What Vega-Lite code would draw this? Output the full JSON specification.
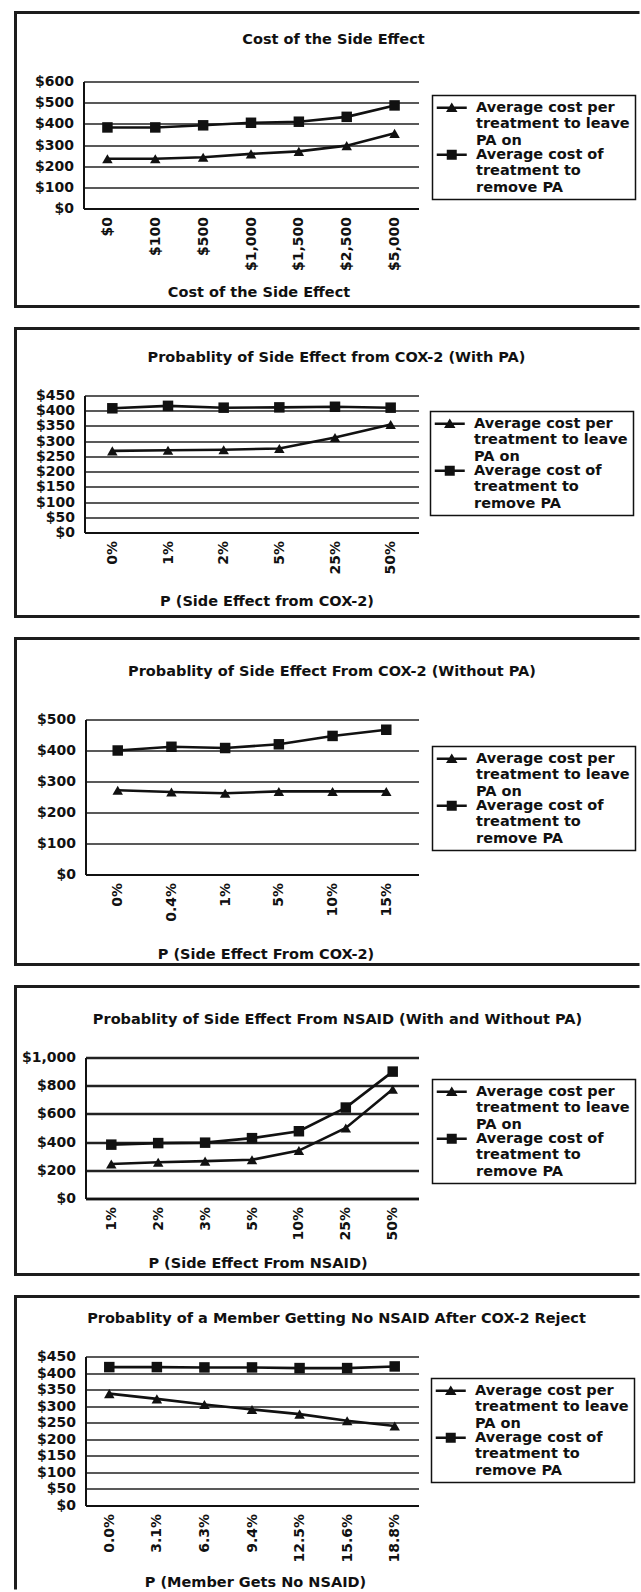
{
  "$schema": "https://vega.github.io/schema/vega-lite/v6.json",
  "padding": {"left": 13.5, "top": 10.5, "right": 0, "bottom": 0},
  "spacing": 18,
  "background": "white",
  "datasets": {
    "sideEffectCost": [
      {"level": "$0", "series": "Average cost per treatment to leave PA on", "cost": 235},
      {"level": "$100", "series": "Average cost per treatment to leave PA on", "cost": 235},
      {"level": "$500", "series": "Average cost per treatment to leave PA on", "cost": 242},
      {"level": "$1,000", "series": "Average cost per treatment to leave PA on", "cost": 258},
      {"level": "$1,500", "series": "Average cost per treatment to leave PA on", "cost": 270},
      {"level": "$2,500", "series": "Average cost per treatment to leave PA on", "cost": 297},
      {"level": "$5,000", "series": "Average cost per treatment to leave PA on", "cost": 355},
      {"level": "$0", "series": "Average cost of treatment to remove PA", "cost": 383},
      {"level": "$100", "series": "Average cost of treatment to remove PA", "cost": 383},
      {"level": "$500", "series": "Average cost of treatment to remove PA", "cost": 393},
      {"level": "$1,000", "series": "Average cost of treatment to remove PA", "cost": 405},
      {"level": "$1,500", "series": "Average cost of treatment to remove PA", "cost": 410},
      {"level": "$2,500", "series": "Average cost of treatment to remove PA", "cost": 433},
      {"level": "$5,000", "series": "Average cost of treatment to remove PA", "cost": 487}
    ],
    "cox2WithPA": [
      {"level": "0%", "series": "Average cost per treatment to leave PA on", "cost": 268},
      {"level": "1%", "series": "Average cost per treatment to leave PA on", "cost": 270},
      {"level": "2%", "series": "Average cost per treatment to leave PA on", "cost": 272},
      {"level": "5%", "series": "Average cost per treatment to leave PA on", "cost": 276},
      {"level": "25%", "series": "Average cost per treatment to leave PA on", "cost": 312},
      {"level": "50%", "series": "Average cost per treatment to leave PA on", "cost": 355},
      {"level": "0%", "series": "Average cost of treatment to remove PA", "cost": 408},
      {"level": "1%", "series": "Average cost of treatment to remove PA", "cost": 416},
      {"level": "2%", "series": "Average cost of treatment to remove PA", "cost": 410},
      {"level": "5%", "series": "Average cost of treatment to remove PA", "cost": 411},
      {"level": "25%", "series": "Average cost of treatment to remove PA", "cost": 413},
      {"level": "50%", "series": "Average cost of treatment to remove PA", "cost": 410}
    ],
    "cox2WithoutPA": [
      {"level": "0%", "series": "Average cost per treatment to leave PA on", "cost": 272},
      {"level": "0.4%", "series": "Average cost per treatment to leave PA on", "cost": 266},
      {"level": "1%", "series": "Average cost per treatment to leave PA on", "cost": 262},
      {"level": "5%", "series": "Average cost per treatment to leave PA on", "cost": 268},
      {"level": "10%", "series": "Average cost per treatment to leave PA on", "cost": 268},
      {"level": "15%", "series": "Average cost per treatment to leave PA on", "cost": 268},
      {"level": "0%", "series": "Average cost of treatment to remove PA", "cost": 400},
      {"level": "0.4%", "series": "Average cost of treatment to remove PA", "cost": 412},
      {"level": "1%", "series": "Average cost of treatment to remove PA", "cost": 408},
      {"level": "5%", "series": "Average cost of treatment to remove PA", "cost": 420},
      {"level": "10%", "series": "Average cost of treatment to remove PA", "cost": 447},
      {"level": "15%", "series": "Average cost of treatment to remove PA", "cost": 467}
    ],
    "nsaid": [
      {"level": "1%", "series": "Average cost per treatment to leave PA on", "cost": 245},
      {"level": "2%", "series": "Average cost per treatment to leave PA on", "cost": 257},
      {"level": "3%", "series": "Average cost per treatment to leave PA on", "cost": 265},
      {"level": "5%", "series": "Average cost per treatment to leave PA on", "cost": 275},
      {"level": "10%", "series": "Average cost per treatment to leave PA on", "cost": 340},
      {"level": "25%", "series": "Average cost per treatment to leave PA on", "cost": 500},
      {"level": "50%", "series": "Average cost per treatment to leave PA on", "cost": 775},
      {"level": "1%", "series": "Average cost of treatment to remove PA", "cost": 382},
      {"level": "2%", "series": "Average cost of treatment to remove PA", "cost": 393},
      {"level": "3%", "series": "Average cost of treatment to remove PA", "cost": 396},
      {"level": "5%", "series": "Average cost of treatment to remove PA", "cost": 428},
      {"level": "10%", "series": "Average cost of treatment to remove PA", "cost": 477},
      {"level": "25%", "series": "Average cost of treatment to remove PA", "cost": 645},
      {"level": "50%", "series": "Average cost of treatment to remove PA", "cost": 900}
    ],
    "noNsaid": [
      {"level": "0.0%", "series": "Average cost per treatment to leave PA on", "cost": 338},
      {"level": "3.1%", "series": "Average cost per treatment to leave PA on", "cost": 322},
      {"level": "6.3%", "series": "Average cost per treatment to leave PA on", "cost": 305},
      {"level": "9.4%", "series": "Average cost per treatment to leave PA on", "cost": 290},
      {"level": "12.5%", "series": "Average cost per treatment to leave PA on", "cost": 276},
      {"level": "15.6%", "series": "Average cost per treatment to leave PA on", "cost": 256},
      {"level": "18.8%", "series": "Average cost per treatment to leave PA on", "cost": 240},
      {"level": "0.0%", "series": "Average cost of treatment to remove PA", "cost": 418},
      {"level": "3.1%", "series": "Average cost of treatment to remove PA", "cost": 418},
      {"level": "6.3%", "series": "Average cost of treatment to remove PA", "cost": 417},
      {"level": "9.4%", "series": "Average cost of treatment to remove PA", "cost": 417},
      {"level": "12.5%", "series": "Average cost of treatment to remove PA", "cost": 415},
      {"level": "15.6%", "series": "Average cost of treatment to remove PA", "cost": 415},
      {"level": "18.8%", "series": "Average cost of treatment to remove PA", "cost": 420}
    ]
  },
  "vconcat": [
    {
      "width": 624, "height": 294,
      "view": {"stroke": "#1c1c1c", "strokeWidth": 3, "strokeDash": [624, 294, 1000]},
      "data": {"name": "sideEffectCost"},
      "title": {"text": "Cost of the Side Effect", "offset": -42.3, "baseline": "middle", "anchor": "middle", "frame": "group", "dx": 6},
      "encoding": {
        "x": {"field": "level", "type": "ordinal",
              "scale": {"type": "point", "domain": ["$0", "$100", "$500", "$1,000", "$1,500", "$2,500", "$5,000"], "range": [68, 403], "padding": 0.5},
              "axis": {"title": "Cost of the Side Effect", "labelAngle": -90, "labelPadding": 8, "offset": -98, "titleX": 243, "titleY": 84, "titleBaseline": "middle", "titleAlign": "center", "grid": false}},
        "y": {"field": "cost", "type": "quantitative",
              "scale": {"domain": [0, 600], "range": [196, 69], "nice": false},
              "axis": {"title": null, "values": [0, 100, 200, 300, 400, 500, 600], "format": "$,.0f", "grid": true, "labelPadding": 10, "offset": -68}}
      },
      "resolve": {"scale": {"shape": "independent"}, "legend": {"shape": "independent"}},
      "layer": [
        {"mark": {"type": "line", "color": "#111", "strokeWidth": 2.6}, "encoding": {"detail": {"field": "series"}}},
        {"mark": {"type": "point", "filled": true, "opacity": 1, "color": "#111", "size": 110},
         "encoding": {"shape": {"field": "series", "type": "nominal",
           "scale": {"domain": ["Average cost per treatment to leave PA on", "Average cost of treatment to remove PA"], "range": ["triangle-up", "square"]},
           "legend": null}}},
        {"transform": [{"filter": "false"}],
         "mark": {"type": "point", "filled": true, "opacity": 1, "color": "#111"},
         "encoding": {"shape": {"field": "series", "type": "nominal",
           "scale": {"domain": ["Average cost per treatment to leave PA on", "Average cost of treatment to remove PA"], "range": ["M-3,-0.25H3V0.25H-3Z M0,-1.05L1.15,0.85H-1.15Z", "M-3,-0.25H3V0.25H-3Z M-1,-1H1V1H-1Z"]},
           "legend": {"title": null, "orient": "none", "legendX": 417, "legendY": 83, "direction": "vertical",
             "labelExpr": "datum.value == 'Average cost of treatment to remove PA' ? ['Average cost of', 'treatment to', 'remove PA'] : ['Average cost per', 'treatment to leave', 'PA on']"}}}}
      ]
    },
    {
      "width": 624, "height": 288,
      "view": {"stroke": "#1c1c1c", "strokeWidth": 3, "strokeDash": [624, 288, 1000]},
      "data": {"name": "cox2WithPA"},
      "title": {"text": "Probablity of Side Effect from COX-2 (With PA)", "offset": -44.3, "baseline": "middle", "anchor": "middle", "frame": "group", "dx": 9},
      "encoding": {
        "x": {"field": "level", "type": "ordinal",
              "scale": {"type": "point", "domain": ["0%", "1%", "2%", "5%", "25%", "50%"], "range": [69, 403], "padding": 0.5},
              "axis": {"title": "P (Side Effect from COX-2)", "labelAngle": -90, "labelPadding": 8, "offset": -84, "titleX": 251, "titleY": 69, "titleBaseline": "middle", "titleAlign": "center", "grid": false}},
        "y": {"field": "cost", "type": "quantitative",
              "scale": {"domain": [0, 450], "range": [204, 67], "nice": false},
              "axis": {"title": null, "values": [0, 50, 100, 150, 200, 250, 300, 350, 400, 450], "format": "$,.0f", "grid": true, "labelPadding": 10, "offset": -69}}
      },
      "resolve": {"scale": {"shape": "independent"}, "legend": {"shape": "independent"}},
      "layer": [
        {"mark": {"type": "line", "color": "#111", "strokeWidth": 2.6}, "encoding": {"detail": {"field": "series"}}},
        {"mark": {"type": "point", "filled": true, "opacity": 1, "color": "#111", "size": 110},
         "encoding": {"shape": {"field": "series", "type": "nominal",
           "scale": {"domain": ["Average cost per treatment to leave PA on", "Average cost of treatment to remove PA"], "range": ["triangle-up", "square"]},
           "legend": null}}},
        {"transform": [{"filter": "false"}],
         "mark": {"type": "point", "filled": true, "opacity": 1, "color": "#111"},
         "encoding": {"shape": {"field": "series", "type": "nominal",
           "scale": {"domain": ["Average cost per treatment to leave PA on", "Average cost of treatment to remove PA"], "range": ["M-3,-0.25H3V0.25H-3Z M0,-1.05L1.15,0.85H-1.15Z", "M-3,-0.25H3V0.25H-3Z M-1,-1H1V1H-1Z"]},
           "legend": {"title": null, "orient": "none", "legendX": 415, "legendY": 83, "direction": "vertical",
             "labelExpr": "datum.value == 'Average cost of treatment to remove PA' ? ['Average cost of', 'treatment to', 'remove PA'] : ['Average cost per', 'treatment to leave', 'PA on']"}}}}
      ]
    },
    {
      "width": 624, "height": 326,
      "view": {"stroke": "#1c1c1c", "strokeWidth": 3, "strokeDash": [624, 326, 1100]},
      "data": {"name": "cox2WithoutPA"},
      "title": {"text": "Probablity of Side Effect From COX-2 (Without PA)", "offset": -48.3, "baseline": "middle", "anchor": "middle", "frame": "group", "dx": 4.5},
      "encoding": {
        "x": {"field": "level", "type": "ordinal",
              "scale": {"type": "point", "domain": ["0%", "0.4%", "1%", "5%", "10%", "15%"], "range": [70, 403], "padding": 0.6},
              "axis": {"title": "P (Side Effect From COX-2)", "labelAngle": -90, "labelPadding": 8, "offset": -90, "titleX": 250, "titleY": 80, "titleBaseline": "middle", "titleAlign": "center", "grid": false}},
        "y": {"field": "cost", "type": "quantitative",
              "scale": {"domain": [0, 500], "range": [236, 81], "nice": false},
              "axis": {"title": null, "values": [0, 100, 200, 300, 400, 500], "format": "$,.0f", "grid": true, "labelPadding": 10, "offset": -70}}
      },
      "resolve": {"scale": {"shape": "independent"}, "legend": {"shape": "independent"}},
      "layer": [
        {"mark": {"type": "line", "color": "#111", "strokeWidth": 2.6}, "encoding": {"detail": {"field": "series"}}},
        {"mark": {"type": "point", "filled": true, "opacity": 1, "color": "#111", "size": 110},
         "encoding": {"shape": {"field": "series", "type": "nominal",
           "scale": {"domain": ["Average cost per treatment to leave PA on", "Average cost of treatment to remove PA"], "range": ["triangle-up", "square"]},
           "legend": null}}},
        {"transform": [{"filter": "false"}],
         "mark": {"type": "point", "filled": true, "opacity": 1, "color": "#111"},
         "encoding": {"shape": {"field": "series", "type": "nominal",
           "scale": {"domain": ["Average cost per treatment to leave PA on", "Average cost of treatment to remove PA"], "range": ["M-3,-0.25H3V0.25H-3Z M0,-1.05L1.15,0.85H-1.15Z", "M-3,-0.25H3V0.25H-3Z M-1,-1H1V1H-1Z"]},
           "legend": {"title": null, "orient": "none", "legendX": 417, "legendY": 108, "direction": "vertical",
             "labelExpr": "datum.value == 'Average cost of treatment to remove PA' ? ['Average cost of', 'treatment to', 'remove PA'] : ['Average cost per', 'treatment to leave', 'PA on']"}}}}
      ]
    },
    {
      "width": 624, "height": 288,
      "view": {"stroke": "#1c1c1c", "strokeWidth": 3, "strokeDash": [624, 288, 1000]},
      "data": {"name": "nsaid"},
      "title": {"text": "Probablity of Side Effect From NSAID (With and Without PA)", "offset": -48.3, "baseline": "middle", "anchor": "middle", "frame": "group", "dx": 10},
      "encoding": {
        "x": {"field": "level", "type": "ordinal",
              "scale": {"type": "point", "domain": ["1%", "2%", "3%", "5%", "10%", "25%", "50%"], "range": [70, 403], "padding": 0.55},
              "axis": {"title": "P (Side Effect From NSAID)", "labelAngle": -90, "labelPadding": 8, "offset": -76, "titleX": 242, "titleY": 65, "titleBaseline": "middle", "titleAlign": "center", "grid": false, "domainWidth": 2.6}},
        "y": {"field": "cost", "type": "quantitative",
              "scale": {"domain": [0, 1000], "range": [212, 71], "nice": false},
              "axis": {"title": null, "values": [0, 200, 400, 600, 800, 1000], "format": "$,.0f", "grid": true, "gridWidth": 2.4, "labelPadding": 10, "offset": -70}}
      },
      "resolve": {"scale": {"shape": "independent"}, "legend": {"shape": "independent"}},
      "layer": [
        {"mark": {"type": "line", "color": "#111", "strokeWidth": 2.6}, "encoding": {"detail": {"field": "series"}}},
        {"mark": {"type": "point", "filled": true, "opacity": 1, "color": "#111", "size": 110},
         "encoding": {"shape": {"field": "series", "type": "nominal",
           "scale": {"domain": ["Average cost per treatment to leave PA on", "Average cost of treatment to remove PA"], "range": ["triangle-up", "square"]},
           "legend": null}}},
        {"transform": [{"filter": "false"}],
         "mark": {"type": "point", "filled": true, "opacity": 1, "color": "#111"},
         "encoding": {"shape": {"field": "series", "type": "nominal",
           "scale": {"domain": ["Average cost per treatment to leave PA on", "Average cost of treatment to remove PA"], "range": ["M-3,-0.25H3V0.25H-3Z M0,-1.05L1.15,0.85H-1.15Z", "M-3,-0.25H3V0.25H-3Z M-1,-1H1V1H-1Z"]},
           "legend": {"title": null, "orient": "none", "legendX": 417, "legendY": 93, "direction": "vertical",
             "labelExpr": "datum.value == 'Average cost of treatment to remove PA' ? ['Average cost of', 'treatment to', 'remove PA'] : ['Average cost per', 'treatment to leave', 'PA on']"}}}}
      ]
    },
    {
      "width": 624, "height": 293,
      "view": {"stroke": "#1c1c1c", "strokeWidth": 3, "strokeDash": [624, 917, 400]},
      "data": {"name": "noNsaid"},
      "title": {"text": "Probablity of a Member Getting No NSAID After COX-2 Reject", "offset": -37.3, "baseline": "middle", "anchor": "middle", "frame": "group", "dx": 9},
      "encoding": {
        "x": {"field": "level", "type": "ordinal",
              "scale": {"type": "point", "domain": ["0.0%", "3.1%", "6.3%", "9.4%", "12.5%", "15.6%", "18.8%"], "range": [70, 403], "padding": 0.5},
              "axis": {"title": "P (Member Gets No NSAID)", "labelAngle": -90, "labelPadding": 8, "offset": -84, "titleX": 239.5, "titleY": 77, "titleBaseline": "middle", "titleAlign": "center", "grid": false}},
        "y": {"field": "cost", "type": "quantitative",
              "scale": {"domain": [0, 450], "range": [209, 60], "nice": false},
              "axis": {"title": null, "values": [0, 50, 100, 150, 200, 250, 300, 350, 400, 450], "format": "$,.0f", "grid": true, "labelPadding": 10, "offset": -70}}
      },
      "resolve": {"scale": {"shape": "independent"}, "legend": {"shape": "independent"}},
      "layer": [
        {"mark": {"type": "line", "color": "#111", "strokeWidth": 2.6}, "encoding": {"detail": {"field": "series"}}},
        {"mark": {"type": "point", "filled": true, "opacity": 1, "color": "#111", "size": 110},
         "encoding": {"shape": {"field": "series", "type": "nominal",
           "scale": {"domain": ["Average cost per treatment to leave PA on", "Average cost of treatment to remove PA"], "range": ["triangle-up", "square"]},
           "legend": null}}},
        {"transform": [{"filter": "false"}],
         "mark": {"type": "point", "filled": true, "opacity": 1, "color": "#111"},
         "encoding": {"shape": {"field": "series", "type": "nominal",
           "scale": {"domain": ["Average cost per treatment to leave PA on", "Average cost of treatment to remove PA"], "range": ["M-3,-0.25H3V0.25H-3Z M0,-1.05L1.15,0.85H-1.15Z", "M-3,-0.25H3V0.25H-3Z M-1,-1H1V1H-1Z"]},
           "legend": {"title": null, "orient": "none", "legendX": 416, "legendY": 82, "direction": "vertical",
             "labelExpr": "datum.value == 'Average cost of treatment to remove PA' ? ['Average cost of', 'treatment to', 'remove PA'] : ['Average cost per', 'treatment to leave', 'PA on']"}}}}
      ]
    }
  ],
  "resolve": {
    "scale": {"x": "independent", "y": "independent", "shape": "independent"},
    "axis": {"x": "independent", "y": "independent"},
    "legend": {"shape": "independent"}
  },
  "config": {
    "font": "DejaVu Sans",
    "view": {"stroke": "#1c1c1c", "strokeWidth": 3},
    "axis": {
      "labelFont": "DejaVu Sans", "labelFontWeight": "bold", "labelFontSize": 14, "labelColor": "#111",
      "ticks": false, "tickSize": 0,
      "domainColor": "#111", "domainWidth": 2,
      "gridColor": "#222", "gridWidth": 1.3, "gridOpacity": 1,
      "titleFont": "DejaVu Sans", "titleFontSize": 14.5, "titleFontWeight": "bold", "titleColor": "#111"
    },
    "legend": {
      "labelFont": "DejaVu Sans", "labelFontWeight": "bold", "labelFontSize": 14.5, "labelColor": "#111",
      "labelLimit": 300, "strokeColor": "#111", "strokeWidth": 1.5, "padding": 5,
      "symbolSize": 100, "symbolOffset": 7, "labelOffset": 17, "rowPadding": -1, "symbolStrokeWidth": 0
    },
    "title": {"font": "DejaVu Sans", "fontSize": 14.5, "fontWeight": "bold", "color": "#111"}
  }
}
